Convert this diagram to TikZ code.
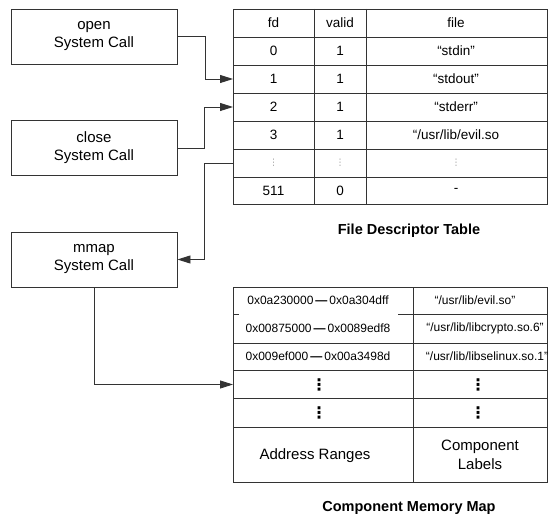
\documentclass[tikz,border=0pt]{standalone}
\usepackage{fontspec}
\setmainfont{Liberation Sans}
\newfontfamily\dejavu{DejaVu Sans}
\usetikzlibrary{arrows.meta}
\begin{document}
\begin{tikzpicture}[x=1pt,y=-1pt,
  ln/.style={draw=black!80,line width=0.9pt},
  callbox/.style={ln,minimum width=166pt,minimum height=55pt,align=center,font=\fontsize{15}{18}\selectfont,inner sep=0pt},
  cell/.style={font=\fontsize{13.5}{15}\selectfont,inner sep=0pt},
  addr/.style={font=\fontsize{12}{13}\selectfont,inner sep=0pt},
  lab/.style={font=\fontsize{12}{13}\selectfont,inner sep=0pt},
  big/.style={font=\fontsize{15}{19}\selectfont,inner sep=0pt,align=center},
  lightdots/.style={font=\dejavu\fontsize{9}{9}\selectfont,text=black!40,inner sep=0pt},
  bolddots/.style={font=\dejavu\bfseries\fontsize{16}{16}\selectfont,inner sep=0pt},
  title/.style={font=\fontsize{14.5}{16}\selectfont\bfseries,inner sep=0pt},
  arr/.style={ln,-{Triangle[length=13pt,width=8pt]}}
]
\useasboundingbox[fill=white] (0,0) rectangle (548,518);

% system call boxes
\node[callbox] (open)  at (94,36.5) {open\\System Call};
\node[callbox] (close) at (94,148)  {close\\System Call};
\node[callbox] (mmap)  at (94,259.5) {mmap\\System Call};

% file descriptor table
\draw[ln] (233,9) rectangle (547,204);
\foreach \y in {37,65,93,121,149,177} \draw[ln] (233,\y) -- (547,\y);
\draw[ln] (314,9) -- (314,204);
\draw[ln] (366,9) -- (366,204);

\node[cell] (fdh) at (273.5,23) {fd};
\node[cell] (vh)  at (340,23) {valid};
\node[cell] (fh)  at (456,23) {file};
\node[cell] (fd0) at (273.5,51) {0};
\node[cell] (v0)  at (340,51) {1};
\node[cell] (f0)  at (456,51) {“stdin”};
\node[cell] (fd1) at (273.5,79) {1};
\node[cell] (v1)  at (340,79) {1};
\node[cell] (f1)  at (456,79) {“stdout”};
\node[cell] (fd2) at (273.5,107) {2};
\node[cell] (v2)  at (340,107) {1};
\node[cell] (f2)  at (456,107) {“stderr”};
\node[cell] (fd3) at (273.5,135) {3};
\node[cell] (v3)  at (340,135) {1};
\node[cell] (f3)  at (456,135) {“/usr/lib/evil.so};
\node[lightdots] (fdd) at (273.5,163) {⋮};
\node[lightdots] (vd)  at (340,163) {⋮};
\node[lightdots] (fld) at (456,163) {⋮};
\node[cell] (fd511) at (273.5,190.5) {511};
\node[cell] (v511)  at (340,190.5) {0};
\node[cell] (f511)  at (456,190.5) {-};

\coordinate (fdrow1) at (233,79);
\coordinate (fdrow2) at (233,107);
\coordinate (fdrowd) at (233,163);

\node[title] (fdtitle) at (409,231) {File Descriptor Table};

% component memory map
\draw[ln] (233,287) rectangle (547,482);
\draw[ln] (413,287) -- (413,482);
\draw[ln] (233,314) -- (239,314);
\draw[ln] (398,314) -- (547,314);
\foreach \y in {343,370,398,427} \draw[ln] (233,\y) -- (547,\y);

\node[addr] (a1) at (318,300.5) {0x0a230000\,\textbf{—}\,0x0a304dff};
\node[addr] (a2) at (318,328.5) {0x00875000\,\textbf{—}\,0x0089edf8};
\node[addr] (a3) at (318,356.5) {0x009ef000\,\textbf{—}\,0x00a3498d};
\node[lab] (l1) at (475,300.5) {“/usr/lib/evil.so”};
\node[lab] (l2) at (485,328.5) {“/usr/lib/libcrypto.so.6”};
\node[lab] (l3) at (487,356.5) {“/usr/lib/libselinux.so.1”};
\node[bolddots] (ad1) at (319,384.5) {⋮};
\node[bolddots] (ld1) at (478,384.5) {⋮};
\node[bolddots] (ad2) at (319,412.5) {⋮};
\node[bolddots] (ld2) at (478,412.5) {⋮};
\node[big] (arh) at (315,456) {Address Ranges};
\node[big] (clh) at (480,454.5) {Component\\Labels};

\coordinate (mmrow4) at (233,384.5);

\node[title] (mmtitle) at (409,508) {Component Memory Map};

% connectors
\draw[arr] (open.east) -- (205,36.5) |- (fdrow1);
\draw[arr] (close.east) -- (204,148) |- (fdrow2);
\draw[arr] (fdrowd) -- (204,163) |- (mmap.east);
\draw[arr] (mmap.south) |- (mmrow4);
\end{tikzpicture}
\end{document}
